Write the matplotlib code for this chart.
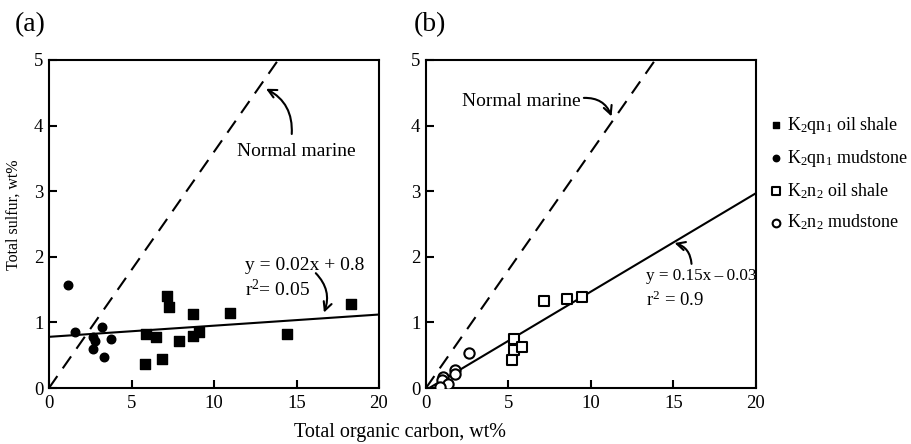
import matplotlib
matplotlib.use('Agg')
import matplotlib.pyplot as plt
import numpy as np

plt.rcParams['font.family'] = ['Liberation Serif', 'DejaVu Serif']
plt.rcParams['mathtext.fontset'] = 'custom'
plt.rcParams['mathtext.rm'] = 'Liberation Serif'
plt.rcParams['mathtext.it'] = 'Liberation Serif:italic'

# (a) K2qn1 samples
qn1_shale_toc = [7.13, 7.25, 8.75, 10.97, 18.28, 5.88, 6.46, 7.86, 8.75, 9.07, 14.45, 6.83, 5.84]
qn1_shale_s = [1.40, 1.23, 1.13, 1.14, 1.28, 0.82, 0.78, 0.72, 0.79, 0.85, 0.82, 0.44, 0.37]
qn1_mud_toc = [1.13, 1.58, 3.21, 2.69, 2.79, 3.74, 2.65, 3.33]
qn1_mud_s = [1.57, 0.86, 0.93, 0.77, 0.72, 0.74, 0.59, 0.47]

# (b) K2n2 samples
n2_shale_toc = [7.15, 8.57, 9.45, 5.33, 5.33, 5.80, 5.23]
n2_shale_s = [1.32, 1.35, 1.39, 0.75, 0.58, 0.62, 0.42]
n2_mud_toc = [2.60, 1.76, 1.74, 1.01, 0.98, 1.33, 0.87]
n2_mud_s = [0.54, 0.27, 0.21, 0.17, 0.12, 0.06, 0.02]

# lines: normal marine (S = 0.36 TOC) and fitted regressions (slope, intercept)
marine_slope = 0.36
fit_a = (0.017, 0.78)
fit_b = (0.15, -0.03)

x_line = np.array([0, 20])

fig = plt.figure(figsize=(9.12, 4.44), dpi=100)
ax_a = fig.add_axes([49 / 912, 56 / 444, 330 / 912, 328 / 444])
ax_b = fig.add_axes([426 / 912, 56 / 444, 330 / 912, 328 / 444])

for ax in (ax_a, ax_b):
    ax.set_xlim(0, 20)
    ax.set_ylim(0, 5)
    ax.set_xticks([0, 5, 10, 15, 20])
    ax.set_yticks([0, 1, 2, 3, 4, 5])
    ax.tick_params(direction='in', length=6, width=1.5, labelsize=13.5, pad=5)
    ax.tick_params(axis='y', pad=4)
    for sp in ax.spines.values():
        sp.set_linewidth(1.5)
    ax.plot(x_line, marine_slope * x_line, color='black', lw=1.5, dashes=(7, 4.5))

# panel a
ax_a.plot(x_line, fit_a[0] * x_line + fit_a[1], color='black', lw=1.5)
h1 = ax_a.scatter(qn1_shale_toc, qn1_shale_s, marker='s', s=45, color='black', zorder=3)
h2 = ax_a.scatter(qn1_mud_toc, qn1_mud_s, marker='o', s=38, color='black', zorder=3)

ax_a.text(11.9, 1.86, 'y = 0.02x + 0.8', fontsize=14, va='center')
ax_a.text(11.9, 1.5, 'r$^2$= 0.05', fontsize=14, va='center')
ax_a.annotate('', xy=(16.6, 1.11), xytext=(16.05, 1.78),
              arrowprops=dict(arrowstyle='->', lw=1.5, mutation_scale=15,
                              connectionstyle='arc3,rad=-0.35'))
ax_a.text(15.0, 3.6, 'Normal marine', fontsize=14, ha='center', va='center')
ax_a.annotate('', xy=(13.0, 4.58), xytext=(14.7, 3.83),
              arrowprops=dict(arrowstyle='->', lw=1.5, mutation_scale=15,
                              connectionstyle='arc3,rad=0.35'))

# panel b
ax_b.plot(x_line, fit_b[0] * x_line + fit_b[1], color='black', lw=1.5)
h3 = ax_b.scatter(n2_shale_toc, n2_shale_s, marker='s', s=60, facecolor='white',
                  edgecolor='black', linewidths=1.5, zorder=3)
h4 = ax_b.scatter(n2_mud_toc, n2_mud_s, marker='o', s=55, facecolor='white',
                  edgecolor='black', linewidths=1.5, zorder=3)

ax_b.text(13.35, 1.70, 'y = 0.15x\u2009\u2013\u20090.03', fontsize=12.3, va='center')
ax_b.text(13.35, 1.33, 'r$^2$ = 0.9', fontsize=13.5, va='center')
ax_b.annotate('', xy=(14.9, 2.22), xytext=(16.1, 1.85),
              arrowprops=dict(arrowstyle='->', lw=1.5, mutation_scale=15,
                              connectionstyle='arc3,rad=0.4'))
ax_b.text(9.4, 4.37, 'Normal marine', fontsize=14, ha='right', va='center')
ax_b.annotate('', xy=(11.3, 4.1), xytext=(9.4, 4.42),
              arrowprops=dict(arrowstyle='->', lw=1.5, mutation_scale=15,
                              connectionstyle='arc3,rad=-0.4'))

fig.text(15 / 912, 1 - 25 / 444, '(a)', fontsize=20, va='center')
fig.text(414 / 912, 1 - 25 / 444, '(b)', fontsize=20, va='center')
fig.text(14 / 912, 1 - 215 / 444, 'Total sulfur, wt%', fontsize=11.5,
         rotation=90, ha='center', va='center')
fig.text(400 / 912, 1 - 432 / 444, 'Total organic carbon, wt%', fontsize=14.5,
         ha='center', va='center')

labels = ['K$_{2}$qn$_{1}$ oil shale', 'K$_{2}$qn$_{1}$ mudstone',
          'K$_{2}$n$_{2}$ oil shale', 'K$_{2}$n$_{2}$ mudstone']
leg = fig.legend([h1, h2, h3, h4], labels, loc='upper left',
                 bbox_to_anchor=(758 / 912, 1 - 108 / 444), frameon=False,
                 fontsize=13, handletextpad=0.0, handlelength=1.2,
                 labelspacing=0.66, markerscale=0.75, borderaxespad=0)

fig.savefig('out.png', dpi=100)
